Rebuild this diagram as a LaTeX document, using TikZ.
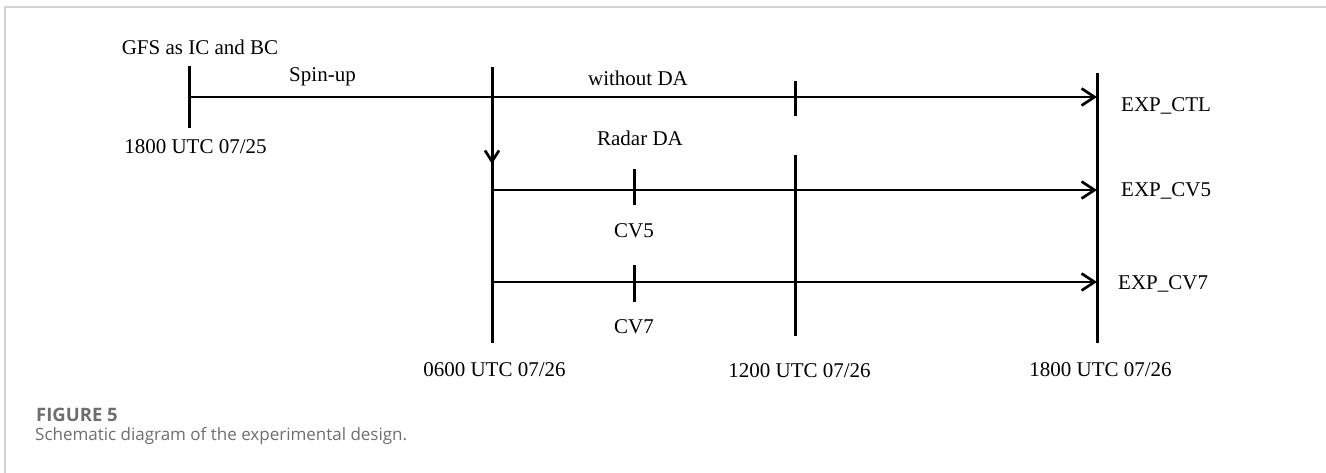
\documentclass[tikz,border=0pt]{standalone}
\usepackage{fontspec}
\setmainfont{Liberation Serif}
\newfontfamily\capfont{Open Sans}
\usetikzlibrary{arrows.meta}
\definecolor{capgray}{HTML}{6E6E6E}
\definecolor{framegray}{HTML}{D3D3D3}
\begin{document}
\begin{tikzpicture}[x=1pt,y=-1pt,
  lbl/.style={font=\fontsize{21}{24}\selectfont, inner sep=0pt, anchor=base},
  tl/.style={line width=2.7pt},
  vt/.style={line width=3pt},
  arr/.style={line width=2.7pt, -{Straight Barb[length=13pt,width=17pt,line width=2.7pt]}},
  darr/.style={line width=3pt, -{Straight Barb[length=11pt,width=14pt,line width=2.7pt]}},
  frame/.style={draw=framegray, line width=1.5pt}]
\useasboundingbox (0,0) rectangle (1326,473);
\draw[frame] (5,473) -- (5,7) -- (1326,7);
% coordinates
\coordinate (s0) at (189,97);
\coordinate (s0t) at (189,66);
\coordinate (s0b) at (189,128);
\coordinate (a0t) at (492,67);
\coordinate (a0b) at (492,343);
\coordinate (a0m) at (492,164);
\coordinate (r2) at (492,190);
\coordinate (r3) at (492,282);
\coordinate (e1) at (1097,97);
\coordinate (e2) at (1097,190);
\coordinate (e3) at (1097,282);
\coordinate (et) at (1097,73);
\coordinate (eb) at (1097,343);
\coordinate (m1t) at (795,81);
\coordinate (m1b) at (795,116);
\coordinate (m2t) at (795,155);
\coordinate (m2b) at (795,336);
\coordinate (c5t) at (634,169);
\coordinate (c5b) at (634,205);
\coordinate (c7t) at (634,265);
\coordinate (c7b) at (634,302);
% verticals
\draw[vt] (s0t) -- (s0b);
\draw[vt] (a0t) -- (a0b);
\draw[darr] (a0t) -- (a0m);
\draw[vt] (et) -- (eb);
\draw[vt] (m1t) -- (m1b);
\draw[vt] (m2t) -- (m2b);
\draw[vt] (c5t) -- (c5b);
\draw[vt] (c7t) -- (c7b);
% horizontal arrows
\draw[arr] (s0) -- (e1);
\draw[arr] (r2) -- (e2);
\draw[arr] (r3) -- (e3);
% labels
\node[lbl] (gfs) at (200,55) {GFS as IC and BC};
\node[lbl] (spin) at (322.5,82) {Spin-up};
\node[lbl] (t0) at (195.5,154) {1800 UTC 07/25};
\node[lbl] (wda) at (638,86) {without DA};
\node[lbl] (rda) at (640,146) {Radar DA};
\node[lbl] (cv5) at (634,238) {CV5};
\node[lbl] (cv7) at (634,333) {CV7};
\node[lbl] (t1) at (494.5,376) {0600 UTC 07/26};
\node[lbl] (t2) at (799.5,377) {1200 UTC 07/26};
\node[lbl] (t3) at (1100.5,376) {1800 UTC 07/26};
\node[lbl, anchor=base west] (ctl) at (1121,112) {EXP\_CTL};
\node[lbl, anchor=base west] (ecv5) at (1121,197) {EXP\_CV5};
\node[lbl, anchor=base west] (ecv7) at (1118,290) {EXP\_CV7};
% caption
\node[font=\capfont\fontsize{18.5}{19}\selectfont\bfseries, text=capgray, inner sep=0pt, anchor=base west] (fig) at (36,421) {FIGURE 5};
\node[font=\capfont\fontsize{17}{18}\selectfont, text=capgray, inner sep=0pt, anchor=base west] (cap) at (35,440) {Schematic diagram of the experimental design.};
\end{tikzpicture}
\end{document}
